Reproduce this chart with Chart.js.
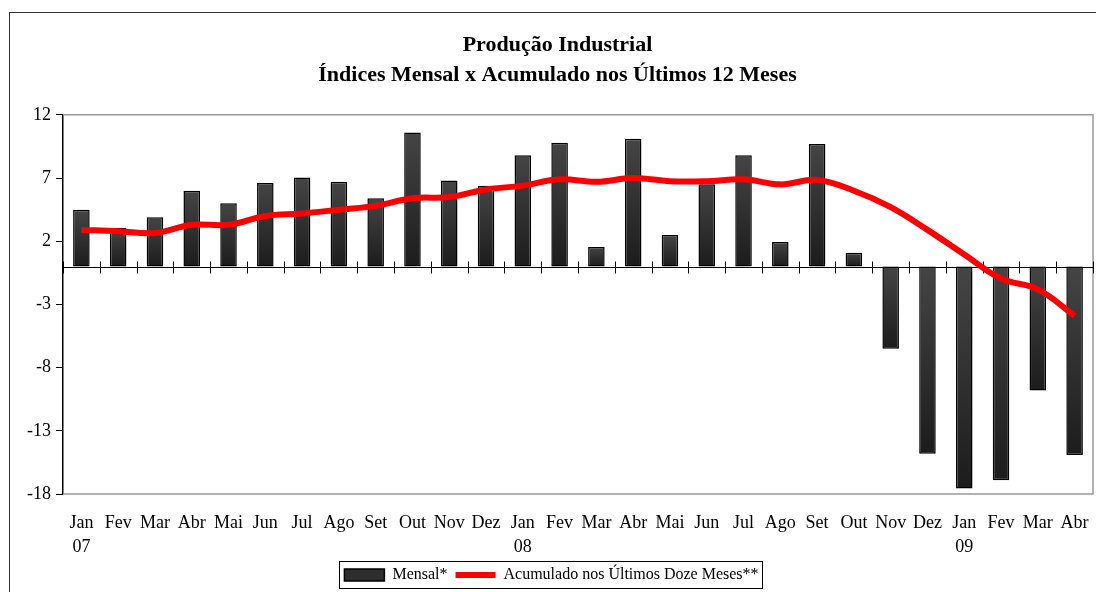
<!DOCTYPE html>
<html>
<head>
<meta charset="utf-8">
<script src="https://cdn.jsdelivr.net/npm/chart.js@4.4.0/dist/chart.umd.min.js"></script>
<style>
  html, body { margin: 0; padding: 0; background: #fff; overflow: hidden; }
  #frame { position: absolute; left: 9px; top: 12px; width: 1100px; height: 620px; border-top: 1px solid #333; border-left: 1px solid #333; }
  #wrap { position: absolute; left: 0; top: 0; width: 1100px; height: 580px; }
</style>
</head>
<body>
<div id="frame"><div id="wrap"><canvas id="chart"></canvas></div></div>
<script>
const months = ['Jan', 'Fev', 'Mar', 'Abr', 'Mai', 'Jun', 'Jul', 'Ago', 'Set', 'Out', 'Nov', 'Dez',
  'Jan', 'Fev', 'Mar', 'Abr', 'Mai', 'Jun', 'Jul', 'Ago', 'Set', 'Out', 'Nov', 'Dez',
  'Jan', 'Fev', 'Mar', 'Abr'];
const years = { 0: '07', 12: '08', 24: '09' };
const mensal = [4.5, 3.05, 3.9, 6.0, 5.0, 6.6, 7.05, 6.7, 5.4, 10.6, 6.8, 6.4,
  8.8, 9.8, 1.55, 10.1, 2.5, 6.5, 8.8, 1.95, 9.7, 1.1, -6.5, -14.8,
  -17.55, -16.9, -9.8, -14.9];
const acumulado = [2.9, 2.8, 2.65, 3.3, 3.3, 4.0, 4.2, 4.5, 4.8, 5.4, 5.5, 6.1,
  6.4, 6.9, 6.7, 7.0, 6.75, 6.75, 6.9, 6.5, 6.85, 6.0, 4.7, 2.9,
  0.95, -0.95, -1.8, -3.9];
const yTicks = [-18, -13, -8, -3, 2, 7, 12];

const labels = months.map((m, i) => years[i] ? [m, years[i]] : m);
const serif = "'Liberation Serif', 'Times New Roman', serif";

// frame of the plot area, zero line with its ticks, box round the legend
const decor = {
  id: 'decor',
  afterLayout(chart) {
    // legend sits a little left of centre in the original
    const lg = chart.legend;
    lg.left -= 6; lg.right -= 6;
    (lg.legendHitBoxes || []).forEach(b => { b.left -= 6; });
  },
  beforeDatasetsDraw(chart) {
    const { ctx, chartArea: a, scales: { x, y } } = chart;
    ctx.save();
    ctx.strokeStyle = '#9a9a9a';
    ctx.lineWidth = 1.5;
    ctx.beginPath();
    ctx.moveTo(a.left, a.top); ctx.lineTo(a.right, a.top);
    ctx.lineTo(a.right, a.bottom); ctx.lineTo(a.left, a.bottom);
    ctx.stroke();

    const y0 = Math.round(y.getPixelForValue(0)) + 0.5;
    ctx.strokeStyle = '#000';
    ctx.lineWidth = 1;
    ctx.beginPath();
    ctx.moveTo(a.left, y0); ctx.lineTo(a.right, y0);
    const half = (x.getPixelForValue(1) - x.getPixelForValue(0)) / 2;
    for (let i = 0; i <= labels.length; i++) {
      const px = Math.round(x.getPixelForValue(i) - half) + 0.5;
      ctx.moveTo(px, y0 - 6); ctx.lineTo(px, y0 + 6);
    }
    ctx.stroke();
    ctx.restore();
  },
  afterDraw(chart) {
    const boxes = chart.legend.legendHitBoxes;
    if (!boxes || !boxes.length) return;
    const { ctx } = chart;
    const l = Math.min(...boxes.map(b => b.left)) - 5;
    const r = Math.max(...boxes.map(b => b.left + b.width)) + 4;
    const t = Math.min(...boxes.map(b => b.top)) - 6;
    const btm = Math.max(...boxes.map(b => b.top + b.height)) + 5;
    ctx.save();
    ctx.strokeStyle = '#000';
    ctx.lineWidth = 1;
    ctx.strokeRect(Math.round(l) + 0.5, Math.round(t) + 0.5, Math.round(r - l), Math.round(btm - t));
    ctx.restore();
  }
};

function barFill(c) {
  const chart = c.chart;
  if (!chart.chartArea || c.raw === undefined) return '#2e2e2e';
  const y = chart.scales.y;
  const top = y.getPixelForValue(Math.max(c.raw, 0));
  const bot = y.getPixelForValue(Math.min(c.raw, 0));
  if (!isFinite(top) || !isFinite(bot) || top === bot) return '#2e2e2e';
  const g = chart.ctx.createLinearGradient(0, top, 0, bot);
  g.addColorStop(0, '#454545');
  g.addColorStop(1, '#1c1c1c');
  return g;
}

new Chart(document.getElementById('chart'), {
  data: {
    labels: labels,
    datasets: [
      {
        type: 'bar',
        label: 'Mensal*',
        data: mensal,
        backgroundColor: barFill,
        borderColor: '#000',
        borderWidth: 1.5,
        borderSkipped: false,
        barPercentage: 0.45,
        categoryPercentage: 1,
        order: 1
      },
      {
        type: 'line',
        label: 'Acumulado nos Últimos Doze Meses**',
        data: acumulado,
        borderColor: '#ff0000',
        backgroundColor: '#ff0000',
        borderWidth: 6,
        tension: 0.4,
        pointRadius: 0,
        fill: false,
        order: 0
      }
    ]
  },
  options: {
    responsive: true,
    maintainAspectRatio: false,
    animation: false,
    layout: { padding: { left: 12, right: 17, top: 0, bottom: 0 } },
    plugins: {
      title: {
        display: true,
        text: ['Produção Industrial', 'Índices Mensal x Acumulado nos Últimos 12 Meses'],
        color: '#000',
        font: { family: serif, size: 22, weight: 'bold', lineHeight: 1.36 },
        padding: { top: 17, bottom: 25 }
      },
      legend: {
        position: 'bottom',
        labels: {
          color: '#000',
          font: { family: serif, size: 16 },
          usePointStyle: true,
          pointStyleWidth: 40,
          boxHeight: 12,
          padding: 8,
          sort: (a, b) => a.datasetIndex - b.datasetIndex,
          generateLabels(chart) {
            return Chart.defaults.plugins.legend.labels.generateLabels(chart).map(item => {
              if (item.datasetIndex === 0) {
                return Object.assign(item, { pointStyle: 'rect', fillStyle: '#2e2e2e', strokeStyle: '#000', lineWidth: 1.5 });
              }
              return Object.assign(item, { pointStyle: 'line', strokeStyle: '#ff0000', lineWidth: 6 });
            });
          }
        }
      },
      tooltip: { enabled: false }
    },
    scales: {
      x: {
        grid: { display: false, drawTicks: false },
        border: { display: false },
        afterFit: scale => { scale.height -= 17; },
        ticks: {
          color: '#000',
          font: { family: serif, size: 18, lineHeight: 1.33 },
          padding: 17,
          maxRotation: 0,
          autoSkip: false
        }
      },
      y: {
        min: -18,
        max: 12,
        afterBuildTicks: axis => { axis.ticks = yTicks.map(v => ({ value: v })); },
        grid: { drawOnChartArea: false, drawTicks: true, tickLength: 7, color: '#000' },
        border: { display: true, color: '#000', width: 1.5 },
        ticks: {
          color: '#000',
          font: { family: serif, size: 18 },
          padding: 5
        }
      }
    }
  },
  plugins: [decor]
});
</script>
</body>
</html>
